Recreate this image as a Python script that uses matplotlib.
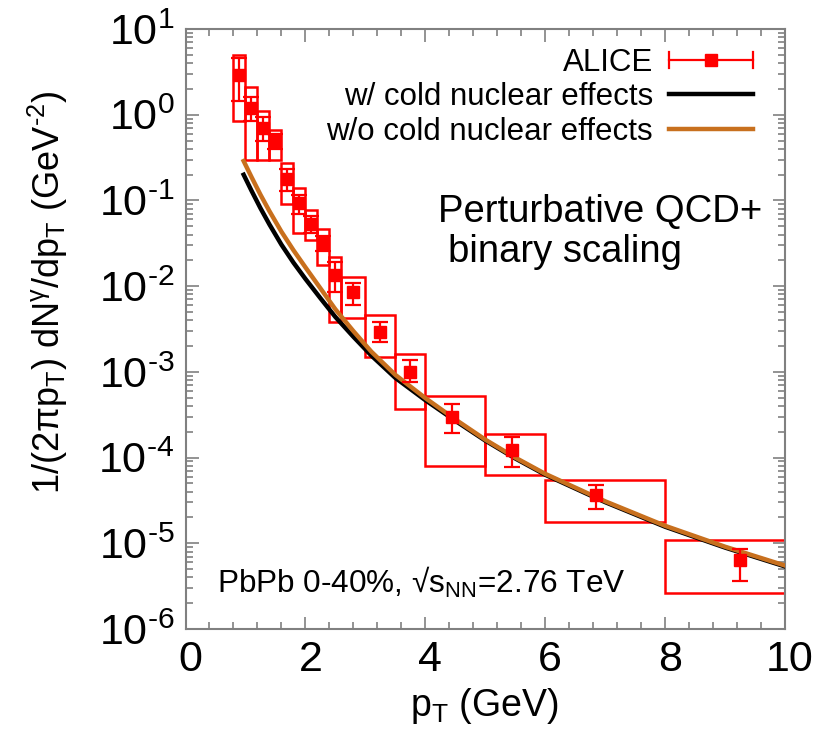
import numpy as np
import matplotlib
matplotlib.use("Agg")
import matplotlib.pyplot as plt
import matplotlib.transforms as mtransforms
from matplotlib.patches import Rectangle
from matplotlib.lines import Line2D
from matplotlib.legend_handler import HandlerBase
from matplotlib.ticker import MultipleLocator, FixedLocator, FuncFormatter, NullFormatter

plt.rcParams['font.family'] = ['Liberation Sans', 'DejaVu Sans']
plt.rcParams['mathtext.fontset'] = 'custom'
plt.rcParams['mathtext.rm'] = 'Liberation Sans'
plt.rcParams['mathtext.it'] = 'Liberation Sans:italic'
plt.rcParams['mathtext.default'] = 'regular'
plt.rcParams['axes.unicode_minus'] = False

# ---- data ----
pt = [0.9, 1.1, 1.3, 1.5, 1.7, 1.9, 2.1, 2.3, 2.5, 2.8, 3.25, 3.75, 4.45, 5.45, 6.85, 9.25]
yield_ = [2.9, 1.2, 0.70, 0.49, 0.18, 0.093, 0.053, 0.032, 0.0135, 0.0086, 0.00294, 0.0010,
          2.99e-4, 1.22e-4, 3.65e-5, 6.37e-6]
stat_lo = [1.45, 0.85, 0.50, 0.40, 0.13, 0.070, 0.042, 0.026, 0.0085, 0.0060, 0.00225, 7.67e-4,
           1.95e-4, 7.8e-5, 2.48e-5, 3.66e-6]
stat_hi = [4.6, 1.6, 0.95, 0.60, 0.23, 0.115, 0.065, 0.038, 0.019, 0.0109, 0.00385, 0.00137,
           4.21e-4, 1.75e-4, 4.77e-5, 8.5e-6]
bin_lo = [0.8, 1.0, 1.2, 1.4, 1.6, 1.8, 2.0, 2.2, 2.4, 2.6, 3.0, 3.5, 4.0, 5.0, 6.0, 8.0]
bin_hi = [1.0, 1.2, 1.4, 1.6, 1.8, 2.0, 2.2, 2.4, 2.6, 3.0, 3.5, 4.0, 5.0, 6.0, 8.0, 10.0]
sys_lo = [0.844, 0.296, 0.296, 0.296, 0.0908, 0.0417, 0.0345, 0.0176, 0.00381, 0.00425, 0.0015,
          3.65e-4, 7.96e-5, 6.25e-5, 1.78e-5, 2.6e-6]
sys_hi = [4.97, 2.12, 1.10, 0.663, 0.275, 0.1396, 0.0773, 0.0463, 0.0219, 0.0129, 0.0046,
          0.00161, 5.26e-4, 1.88e-4, 5.46e-5, 1.09e-5]

pt_curve = [0.97, 1.1, 1.25, 1.4, 1.6, 1.8, 2.0, 2.25, 2.5, 2.8, 3.1, 3.5, 4.0, 4.5, 5.0, 5.5,
            6.0, 7.0, 8.0, 9.0, 10.0]
with_cnm = [0.1995, 0.1303, 0.0813, 0.0525, 0.0305, 0.01884, 0.01216, 0.00724, 0.00437, 0.00257,
            0.00155, 8.51e-4, 4.68e-4, 2.69e-4, 1.58e-4, 9.77e-5, 6.31e-5, 3.02e-5, 1.56e-5,
            8.91e-6, 5.37e-6]
without_cnm = [0.288, 0.188, 0.1167, 0.0750, 0.0432, 0.0263, 0.0166, 0.00944, 0.00537, 0.00299,
               0.00172, 9.23e-4, 4.95e-4, 2.79e-4, 1.62e-4, 1.0e-4, 6.46e-5, 3.09e-5, 1.6e-5,
               9.12e-6, 5.5e-6]

y_decades = [-6, -5, -4, -3, -2, -1, 0, 1]
labels = ["ALICE", "w/ cold nuclear effects", "w/o cold nuclear effects"]
RED = '#ff0000'
ORANGE = '#c8701e'
GRAY = '#808080'

fig = plt.figure(figsize=(8.26, 7.31), dpi=100)
ax = fig.add_axes([185.5 / 826, (731 - 629) / 731, 599.5 / 826, 600 / 731])
ax.set_yscale('log')
ax.set_xlim(0, 10)
ax.set_ylim(1e-6, 1e1)

# systematic boxes
for lo, hi, b, t in zip(bin_lo, bin_hi, sys_lo, sys_hi):
    ax.add_patch(Rectangle((lo, b), hi - lo, t - b, fill=False, edgecolor=RED, lw=1.8, zorder=2))

yv = np.array(yield_)
err = [yv - np.array(stat_lo), np.array(stat_hi) - yv]
ax.errorbar(pt, yv, yerr=err, fmt='s', color=RED, ms=8, elinewidth=1.6, capsize=6, capthick=1.6, zorder=4)

ax.plot(pt_curve, with_cnm, color='black', lw=3.2, zorder=3)
ax.plot(pt_curve, without_cnm, color=ORANGE, lw=3.2, zorder=3.5)

# ticks
major_y = [10.0 ** d for d in y_decades]
minor_y = [m * 10.0 ** d for d in y_decades[:-1] for m in range(2, 10)]
ax.xaxis.set_major_locator(MultipleLocator(2))
ax.xaxis.set_minor_locator(MultipleLocator(0.4))
ax.yaxis.set_major_locator(FixedLocator(major_y))
ax.yaxis.set_minor_locator(FixedLocator(minor_y))
ax.yaxis.set_minor_formatter(NullFormatter())
ax.yaxis.set_major_formatter(FuncFormatter(lambda v, p: r'$10^{\text{%d}}$' % int(round(np.log10(v)))))
ax.xaxis.set_major_formatter(FuncFormatter(lambda v, p: '%d' % v))
ax.tick_params(which='both', direction='in', top=True, right=True, color=GRAY, width=1.2)
ax.tick_params(which='major', length=9, labelsize=31, pad=8)
ax.tick_params(which='minor', length=5)
for s in ax.spines.values():
    s.set_color(GRAY)
    s.set_linewidth(1.5)
offset = mtransforms.ScaledTranslation(5 / 100, 0, fig.dpi_scale_trans)
for lab in ax.get_xticklabels():
    lab.set_transform(lab.get_transform() + offset)

ax.set_xlabel(r'p$_\mathregular{T}$ (GeV)', fontsize=27)
ax.xaxis.set_label_coords((484 - 185.5) / 599.5, (629 - 686) / 600)
ax.set_ylabel(r'1/(2πp$_\mathregular{T}$) dN$^\mathregular{γ}$/dp$_\mathregular{T}$ (GeV$^{\text{-2}}$)',
              fontsize=26)
ax.yaxis.set_label_coords((70 - 185.5) / 599.5, (629 - 292) / 600)

# legend
class HandlerHErr(HandlerBase):
    def create_artists(self, legend, orig_handle, xdescent, ydescent, width, height, fontsize, trans):
        y = height / 2 - ydescent
        x0, x1 = -xdescent, -xdescent + width
        line = Line2D([x0, x1], [y, y], color=RED, lw=1.6, transform=trans)
        c1 = Line2D([x0, x0], [y - 6, y + 6], color=RED, lw=1.6, transform=trans)
        c2 = Line2D([x1, x1], [y - 6, y + 6], color=RED, lw=1.6, transform=trans)
        m = Line2D([(x0 + x1) / 2], [y], marker='s', ms=9, color=RED, ls='none', transform=trans)
        return [line, c1, c2, m]

h_alice = Line2D([], [], color=RED, marker='s')
h_w = Line2D([], [], color='black', lw=3.2)
h_wo = Line2D([], [], color=ORANGE, lw=3.2)
leg = ax.legend([h_alice, h_w, h_wo], labels, loc='upper right',
                bbox_to_anchor=((753 - 185.5) / 599.5, (629 - 48) / 600),
                frameon=False, markerfirst=False, fontsize=22.5, handlelength=2.7,
                handletextpad=0.5, labelspacing=0.14, borderpad=0, borderaxespad=0,
                handler_map={h_alice: HandlerHErr()})

def px(xp, yp):
    return ((xp - 185.5) / 599.5, (629 - yp) / 600)

ax.text(*px(438, 212), 'Perturbative QCD+', transform=ax.transAxes, fontsize=27.5, va='center', ha='left')
ax.text(*px(448, 252), 'binary scaling', transform=ax.transAxes, fontsize=27.5, va='center', ha='left')
ax.text(*px(217, 582), r'PbPb 0-40%, √s$_\mathregular{NN}$=2.76 TeV', transform=ax.transAxes,
        fontsize=22.7, va='center', ha='left')

fig.savefig('out.png', dpi=100)
